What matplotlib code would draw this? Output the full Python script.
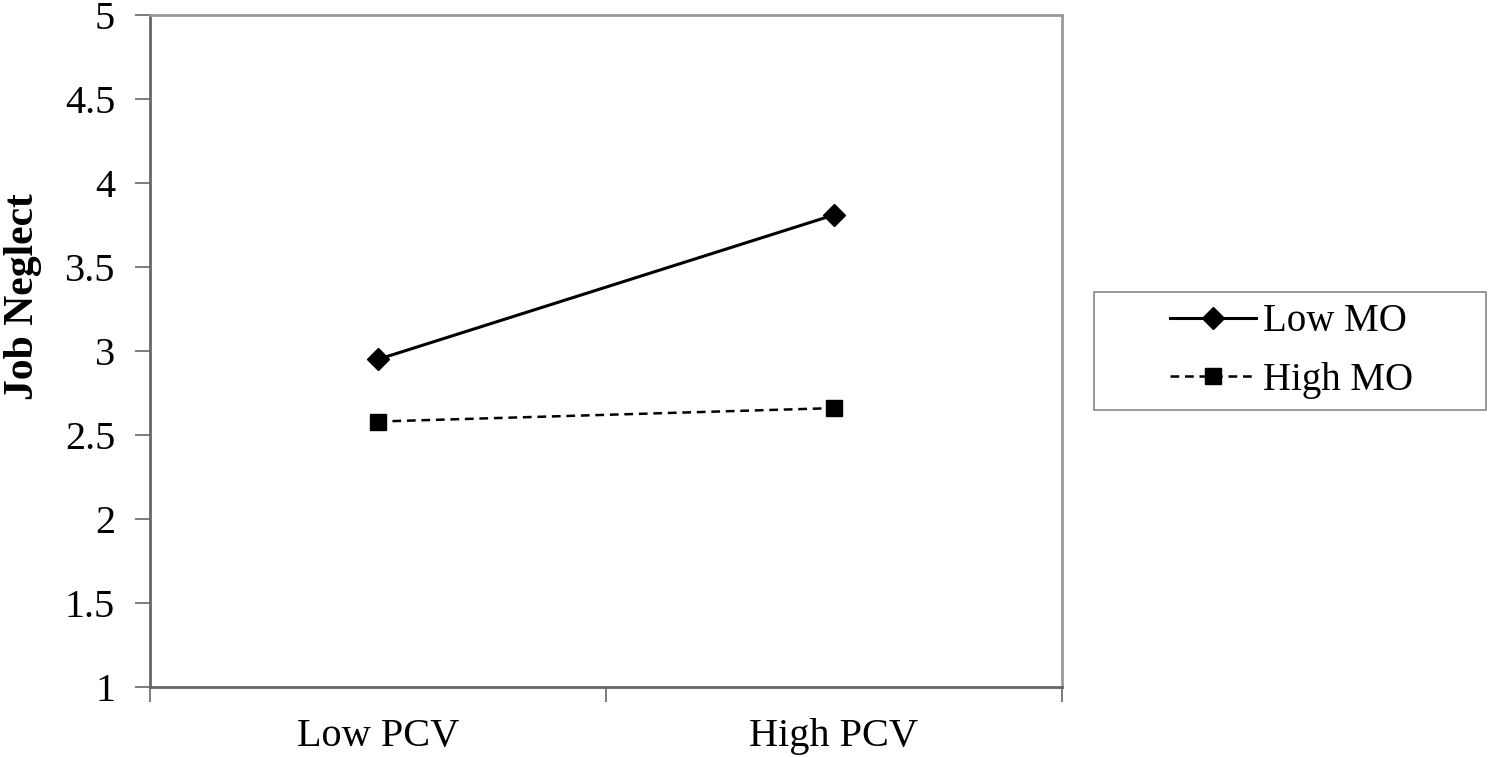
import matplotlib.pyplot as plt
from matplotlib.patches import Rectangle
from matplotlib.ticker import FixedLocator, NullFormatter

plt.rcParams['font.family'] = ['Liberation Serif', 'DejaVu Serif']

categories = ["Low PCV", "High PCV"]
low_mo = [2.95, 3.81]
high_mo = [2.58, 2.66]
yticks = [1, 1.5, 2, 2.5, 3, 3.5, 4, 4.5, 5]
ytick_labels = ["1", "1.5", "2", "2.5", "3", "3.5", "4", "4.5", "5"]

fig = plt.figure(figsize=(14.89, 7.57), dpi=100)
ax = fig.add_axes([0.1007, 0.0925, 0.6125, 0.8877])

x = range(len(categories))
ax.plot(x, low_mo, color="black", linestyle="-", linewidth=2.2,
        marker="D", markersize=11, label="Low MO")
ax.plot(x, high_mo, color="black", linestyle=(0, (3.5, 2.3)), linewidth=1.8,
        marker="s", markersize=12, label="High MO")

ax.set_xlim(-0.5, 1.5)
ax.set_ylim(1, 5)
ax.set_yticks(yticks)
ax.set_yticklabels(ytick_labels)
ax.set_xticks(list(x))
ax.set_xticklabels(categories)
ax.xaxis.set_minor_locator(FixedLocator([-0.5, 0.5, 1.5]))
ax.xaxis.set_minor_formatter(NullFormatter())
ax.tick_params(axis="x", which="major", length=0, pad=22, labelsize=29)
ax.tick_params(axis="x", which="minor", length=11, width=1.2, color="#666666")
ax.tick_params(axis="y", length=11, width=1.2, color="#666666", pad=14, labelsize=29)

for side in ["left", "bottom"]:
    ax.spines[side].set_color("#666666")
    ax.spines[side].set_linewidth(2)
for side in ["top", "right"]:
    ax.spines[side].set_color("#999999")
    ax.spines[side].set_linewidth(2)

fig.text(0.0155, 0.6077, "Job Neglect", fontsize=30, fontweight="bold",
         rotation=90, ha="center", va="center")

# legend frame is drawn separately: the original box is much wider than its content
fig.patches.append(Rectangle((0.7347, 0.4584), 0.2633, 0.1559,
                             transform=fig.transFigure, fill=False,
                             edgecolor="#888888", linewidth=1.2))
fig.legend(loc="center", bbox_to_anchor=(0.8675, 0.5363), fontsize=28,
           frameon=False, handlelength=2.2, handletextpad=0.2,
           borderpad=0, labelspacing=0.55, borderaxespad=0)

fig.savefig("out.png", dpi=100)
